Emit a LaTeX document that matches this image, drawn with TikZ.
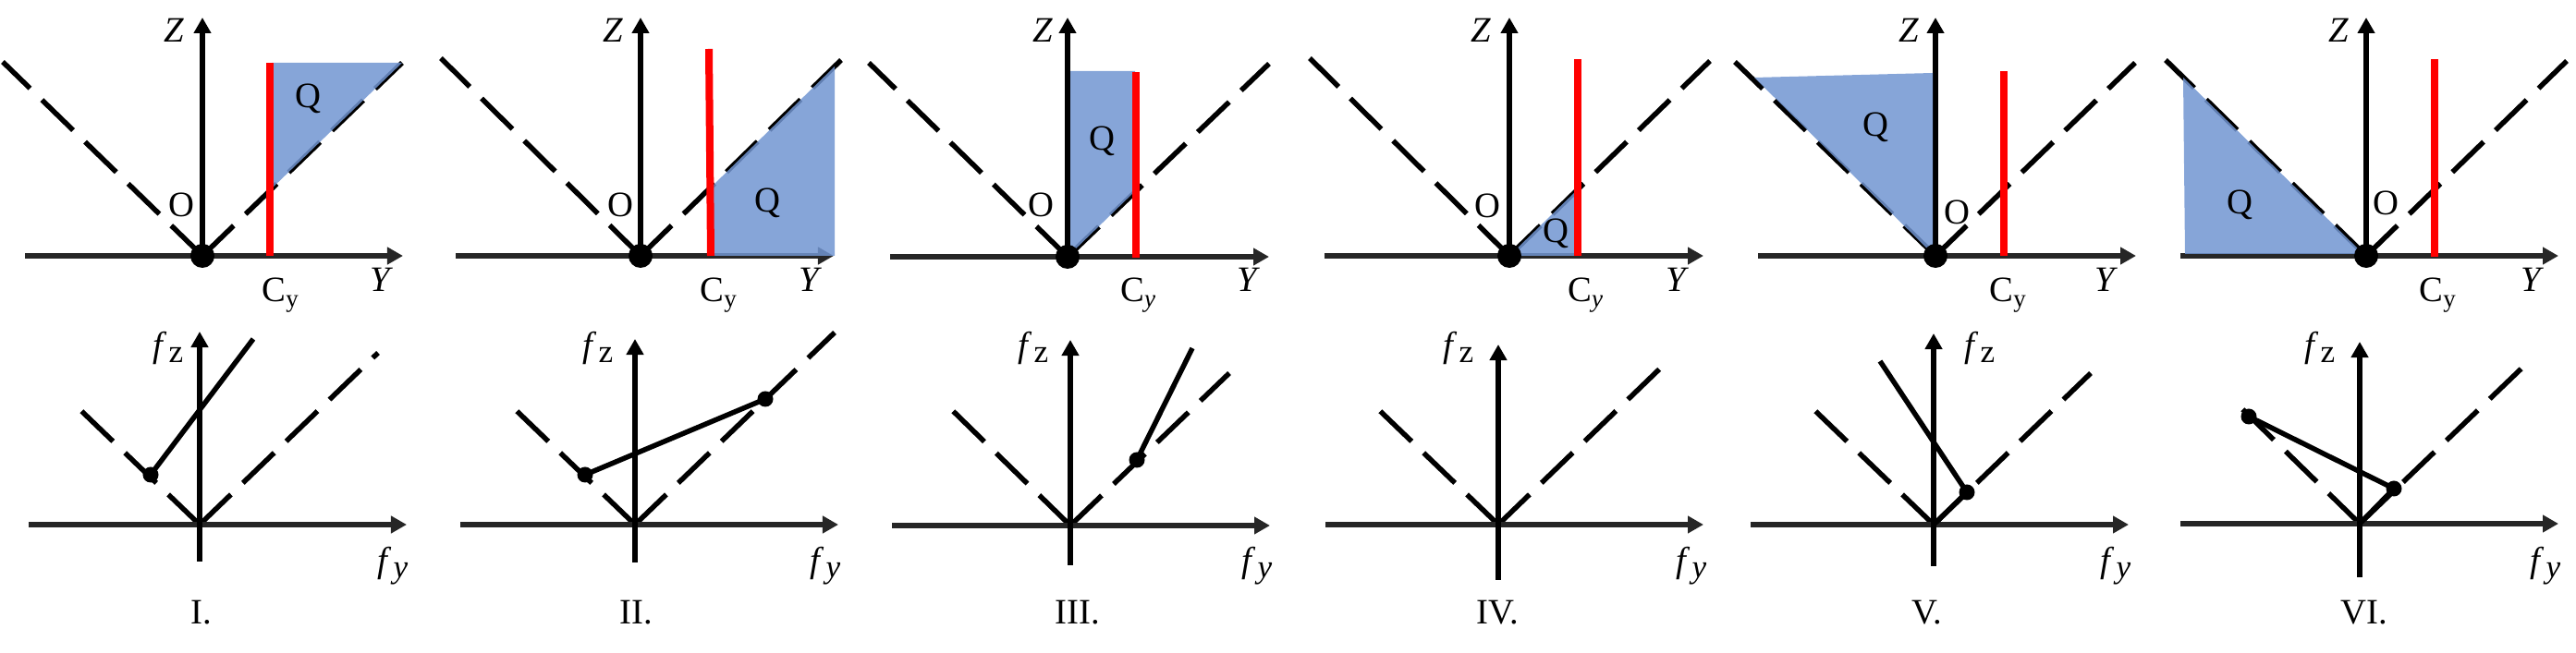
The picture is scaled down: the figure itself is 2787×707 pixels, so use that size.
\documentclass[tikz,border=0pt]{standalone}
\usepackage{fontspec}
\setmainfont{Liberation Serif}
\usetikzlibrary{arrows.meta}
\definecolor{qblue}{RGB}{113,149,209}
\definecolor{axgray}{RGB}{38,38,38}
\definecolor{qred}{RGB}{255,0,0}
\newcommand{\fzlab}{\textit{f}\kern0.04em\raisebox{-0.35ex}{\fontsize{10}{11}\selectfont z}}
\newcommand{\fylab}{\textit{f}\kern0.04em\raisebox{-0.35ex}{\fontsize{10}{11}\selectfont\textit{y}}}
\tikzset{
  ax/.style={line width=0.055cm,-{Triangle[length=0.17cm,width=0.18cm]}},
  hax/.style={ax,draw=axgray},
  vax/.style={ax,draw=black},
  dsh/.style={line width=0.055cm,dash pattern=on 0.47cm off 0.18cm},
  redline/.style={draw=qred,line width=0.08cm},
  qfill/.style={fill=qblue,fill opacity=0.85},
  bigdot/.style={circle,fill=black,inner sep=0pt,minimum size=0.26cm},
  smdot/.style={circle,fill=black,inner sep=0pt,minimum size=0.17cm},
  lbl/.style={font=\fontsize{11}{13}\selectfont,inner sep=0pt,anchor=center},
  sol/.style={line width=0.055cm,draw=black},
}
\begin{document}
\begin{tikzpicture}[x={(0.01cm,0)},y={(0,-0.01cm)}]
\useasboundingbox (0,0) rectangle (2787,707);

% ================= TOP ROW =================
% ---- Panel 1
\coordinate (O1) at (219,277);
\coordinate (YA1) at (27,277); \coordinate (YB1) at (436,277);
\coordinate (ZT1) at (219,19);
\coordinate (DL1) at (3,67); \coordinate (DR1) at (435,68);
\coordinate (RT1) at (292,68); \coordinate (RB1) at (292,277);
\draw[dsh] (O1) -- (DL1);
\draw[dsh] (O1) -- (DR1);
\draw[hax] (YA1) -- (YB1);
\draw[vax] (O1) -- (ZT1);
\fill[qfill] (294,68) -- (435,68) -- (294,204) -- cycle;
\draw[redline] (RB1) -- (RT1);
\node[bigdot] (d1) at (O1) {};
\node[lbl] (z1) at (188,33) {\textit{Z}};
\node[lbl] (q1) at (333,107) {Q};
\node[lbl] (o1) at (196,222) {O};
\node[lbl] (c1) at (304,320) {C\textsubscript{y}};
\node[lbl] (y1) at (413,303) {\textit{Y}};

% ---- Panel 2
\coordinate (O2) at (693,277);
\coordinate (YA2) at (493,277); \coordinate (YB2) at (902,277);
\coordinate (ZT2) at (693,19);
\coordinate (DL2) at (477,63); \coordinate (DR2) at (910,65);
\coordinate (RT2) at (767,53); \coordinate (RB2) at (769,277);
\draw[dsh] (O2) -- (DL2);
\draw[dsh] (O2) -- (DR2);
\draw[hax] (YA2) -- (YB2);
\draw[vax] (O2) -- (ZT2);
\fill[qfill] (770,202) -- (903,72) -- (903,277) -- (770,277) -- cycle;
\draw[redline] (RB2) -- (RT2);
\node[bigdot] (d2) at (O2) {};
\node[lbl] (z2) at (663,33) {\textit{Z}};
\node[lbl] (q2) at (830,220) {Q};
\node[lbl] (o2) at (671,222) {O};
\node[lbl] (c2) at (778,320) {C\textsubscript{y}};
\node[lbl] (y2) at (877,303) {\textit{Y}};

% ---- Panel 3
\coordinate (O3) at (1155,278);
\coordinate (YA3) at (963,278); \coordinate (YB3) at (1373,278);
\coordinate (ZT3) at (1155,19);
\coordinate (DL3) at (940,68); \coordinate (DR3) at (1373,69);
\coordinate (RT3) at (1229,78); \coordinate (RB3) at (1229,279);
\draw[dsh] (O3) -- (DL3);
\draw[dsh] (O3) -- (DR3);
\draw[hax] (YA3) -- (YB3);
\draw[vax] (O3) -- (ZT3);
\fill[qfill] (1158,77) -- (1228,77) -- (1228,207) -- (1158,275) -- cycle;
\draw[redline] (RB3) -- (RT3);
\node[bigdot] (d3) at (O3) {};
\node[lbl] (z3) at (1128,33) {\textit{Z}};
\node[lbl] (q3) at (1192,153) {Q};
\node[lbl] (o3) at (1126,222) {O};
\node[lbl] (c3) at (1232,320) {C\textsubscript{\textit{y}}};
\node[lbl] (y3) at (1351,303) {\textit{Y}};

% ---- Panel 4
\coordinate (O4) at (1633,277);
\coordinate (YA4) at (1433,277); \coordinate (YB4) at (1843,277);
\coordinate (ZT4) at (1633,19);
\coordinate (DL4) at (1417,63); \coordinate (DR4) at (1850,66);
\coordinate (RT4) at (1707,64); \coordinate (RB4) at (1707,277);
\draw[dsh] (O4) -- (DL4);
\draw[dsh] (O4) -- (DR4);
\draw[hax] (YA4) -- (YB4);
\draw[vax] (O4) -- (ZT4);
\fill[qfill] (1633,277) -- (1707,277) -- (1707,205) -- cycle;
\draw[redline] (RB4) -- (RT4);
\node[bigdot] (d4) at (O4) {};
\node[lbl] (z4) at (1602,33) {\textit{Z}};
\node[lbl] (q4) at (1683,253) {Q};
\node[lbl] (o4) at (1609,223) {O};
\node[lbl] (c4) at (1716,320) {C\textsubscript{\textit{y}}};
\node[lbl] (y4) at (1815,303) {\textit{Y}};

% ---- Panel 5
\coordinate (O5) at (2094,277);
\coordinate (YA5) at (1902,277); \coordinate (YB5) at (2311,277);
\coordinate (ZT5) at (2094,19);
\coordinate (DL5) at (1877,67); \coordinate (DR5) at (2310,68);
\coordinate (RT5) at (2168,77); \coordinate (RB5) at (2168,277);
\draw[dsh] (O5) -- (DL5);
\draw[dsh] (O5) -- (DR5);
\draw[hax] (YA5) -- (YB5);
\draw[vax] (O5) -- (ZT5);
\fill[qfill] (1898,84) -- (2091,79) -- (2091,275) -- cycle;
\draw[redline] (RB5) -- (RT5);
\node[bigdot] (d5) at (O5) {};
\node[lbl] (z5) at (2065,33) {\textit{Z}};
\node[lbl] (q5) at (2029,138) {Q};
\node[lbl] (o5) at (2117,230) {O};
\node[lbl] (c5) at (2173,320) {C\textsubscript{y}};
\node[lbl] (y5) at (2279,303) {\textit{Y}};

% ---- Panel 6
\coordinate (O6) at (2560,277);
\coordinate (YA6) at (2359,277); \coordinate (YB6) at (2768,277);
\coordinate (ZT6) at (2560,19);
\coordinate (DL6) at (2343,65); \coordinate (DR6) at (2777,66);
\coordinate (RT6) at (2634,64); \coordinate (RB6) at (2634,278);
\draw[dsh] (O6) -- (DL6);
\draw[dsh] (O6) -- (DR6);
\draw[hax] (YA6) -- (YB6);
\draw[vax] (O6) -- (ZT6);
\fill[qfill] (2362,84) -- (2364,275) -- (2557,275) -- cycle;
\draw[redline] (RB6) -- (RT6);
\node[bigdot] (d6) at (O6) {};
\node[lbl] (z6) at (2530,33) {\textit{Z}};
\node[lbl] (q6) at (2423,222) {Q};
\node[lbl] (o6) at (2581,220) {O};
\node[lbl] (c6) at (2638,320) {C\textsubscript{y}};
\node[lbl] (y6) at (2740,303) {\textit{Y}};

% ================= BOTTOM ROW =================
% ---- I
\coordinate (P1) at (216,568);
\coordinate (FA1) at (31,568); \coordinate (FB1) at (440,568);
\coordinate (FD1) at (216,608); \coordinate (FT1) at (216,359);
\coordinate (EL1) at (85,442); \coordinate (ER1) at (409,382);
\coordinate (S1) at (274,367);
\draw[dsh] (P1) -- (EL1);
\draw[dsh] (P1) -- (ER1);
\draw[hax] (FA1) -- (FB1);
\draw[vax] (FD1) -- (FT1);
\node[smdot] (k1) at (163,514) {};
\draw[sol] (k1.center) -- (S1);
\node[lbl] (fz1) at (182,377) {\fzlab};
\node[lbl] (fy1) at (425,613) {\fylab};
\node[lbl] (n1) at (218,663) {I.};

% ---- II
\coordinate (P2) at (687,568);
\coordinate (FA2) at (498,568); \coordinate (FB2) at (907,568);
\coordinate (FD2) at (687,609); \coordinate (FT2) at (687,367);
\coordinate (EL2) at (557,443); \coordinate (ER2) at (903,360);
\draw[dsh] (P2) -- (EL2);
\draw[dsh] (P2) -- (ER2);
\draw[hax] (FA2) -- (FB2);
\draw[vax] (FD2) -- (FT2);
\node[smdot] (k2a) at (633,514) {};
\node[smdot] (k2b) at (828,432) {};
\draw[sol] (k2a.center) -- (k2b.center);
\node[lbl] (fz2) at (647,377) {\fzlab};
\node[lbl] (fy2) at (893,613) {\fylab};
\node[lbl] (n2) at (688,663) {II.};

% ---- III
\coordinate (P3) at (1158,569);
\coordinate (FA3) at (965,569); \coordinate (FB3) at (1374,569);
\coordinate (FD3) at (1158,612); \coordinate (FT3) at (1158,368);
\coordinate (EL3) at (1029,443); \coordinate (ER3) at (1330,404);
\coordinate (S3) at (1290,377);
\draw[dsh] (P3) -- (EL3);
\draw[dsh] (P3) -- (ER3);
\draw[hax] (FA3) -- (FB3);
\draw[vax] (FD3) -- (FT3);
\node[smdot] (k3) at (1230,498) {};
\draw[sol] (k3.center) -- (S3);
\node[lbl] (fz3) at (1118,377) {\fzlab};
\node[lbl] (fy3) at (1360,613) {\fylab};
\node[lbl] (n3) at (1166,663) {III.};

% ---- IV
\coordinate (P4) at (1621,568);
\coordinate (FA4) at (1434,568); \coordinate (FB4) at (1843,568);
\coordinate (FD4) at (1621,628); \coordinate (FT4) at (1621,373);
\coordinate (EL4) at (1491,443); \coordinate (ER4) at (1797,398);
\draw[dsh] (P4) -- (EL4);
\draw[dsh] (P4) -- (ER4);
\draw[hax] (FA4) -- (FB4);
\draw[vax] (FD4) -- (FT4);
\node[lbl] (fz4) at (1578,377) {\fzlab};
\node[lbl] (fy4) at (1830,613) {\fylab};
\node[lbl] (n4) at (1620,663) {IV.};

% ---- V
\coordinate (P5) at (2092,568);
\coordinate (FA5) at (1894,568); \coordinate (FB5) at (2303,568);
\coordinate (FD5) at (2092,613); \coordinate (FT5) at (2092,361);
\coordinate (EL5) at (1962,443); \coordinate (ER5) at (2262,404);
\coordinate (S5) at (2034,391);
\draw[dsh] (P5) -- (EL5);
\draw[dsh] (P5) -- (ER5);
\draw[hax] (FA5) -- (FB5);
\draw[vax] (FD5) -- (FT5);
\node[smdot] (k5) at (2128,533) {};
\draw[sol] (k5.center) -- (S5);
\draw[sol] (P5) -- (k5.center);
\node[lbl] (fz5) at (2142,377) {\fzlab};
\node[lbl] (fy5) at (2289,613) {\fylab};
\node[lbl] (n5) at (2085,663) {V.};

% ---- VI
\coordinate (P6) at (2553,567);
\coordinate (FA6) at (2359,567); \coordinate (FB6) at (2768,567);
\coordinate (FD6) at (2553,625); \coordinate (FT6) at (2553,370);
\coordinate (EL6) at (2423,440); \coordinate (ER6) at (2730,397);
\draw[dsh] (P6) -- (EL6);
\draw[dsh] (P6) -- (ER6);
\draw[hax] (FA6) -- (FB6);
\draw[vax] (FD6) -- (FT6);
\node[smdot] (k6a) at (2433,451) {};
\node[smdot] (k6b) at (2590,529) {};
\draw[sol] (k6a.center) -- (k6b.center);
\draw[sol] (P6) -- (k6b.center);
\node[lbl] (fz6) at (2510,377) {\fzlab};
\node[lbl] (fy6) at (2754,613) {\fylab};
\node[lbl] (n6) at (2558,663) {VI.};
\end{tikzpicture}
\end{document}
